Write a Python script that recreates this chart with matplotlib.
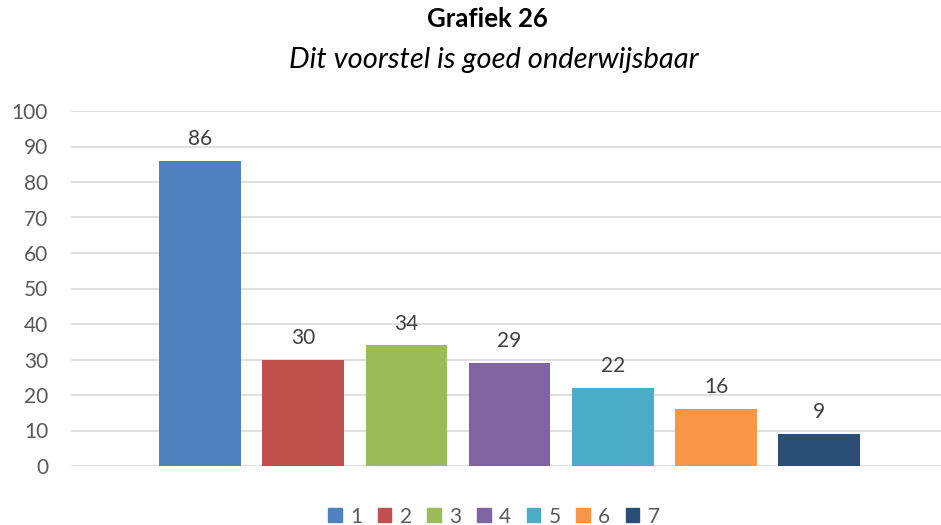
import matplotlib.pyplot as plt
import numpy as np

categories = ["1", "2", "3", "4", "5", "6", "7"]
values = [86, 30, 34, 29, 22, 16, 9]
colors = ["#4F81BD", "#C0504D", "#9BBB59", "#8064A2", "#4BACC6", "#F79646", "#2C4D75"]

plt.rcParams["font.family"] = ["Lato", "DejaVu Sans"]

fig = plt.figure(figsize=(9.41, 5.25), dpi=100)
# axes placed in pixel terms: x 71..941, y 111..466
ax = fig.add_axes([71 / 941, (525 - 466) / 525, 870 / 941, 355 / 525])

x = np.arange(len(values))
bars = ax.bar(x, values, width=0.79, color=colors, zorder=2, label=categories)

for xi, v in zip(x, values):
    ax.text(xi, v + 3.3, str(v), ha="center", va="bottom", fontsize=15, color="#404040")

ax.set_ylim(0, 100)
ax.set_xlim(-1.25, 7.18)
ax.set_yticks(range(0, 101, 10))
ax.set_xticks([])
ax.yaxis.grid(True, color="#D9D9D9", linewidth=1.2, zorder=0)
for s in ax.spines.values():
    s.set_visible(False)
ax.tick_params(axis="y", length=0, pad=16.5, labelsize=15, labelcolor="#595959")

fig.text(0.518, 0.964, "Grafiek 26", ha="center", va="center", fontsize=18.5, fontweight="bold")
fig.text(0.525, 0.885, "Dit voorstel is goed onderwijsbaar", ha="center", va="center",
         fontsize=21, style="italic")

handles = [plt.Rectangle((0, 0), 1, 1, color=c) for c in colors]
fig.legend(handles, categories, loc="center", bbox_to_anchor=(0.525, 0.016), ncol=7,
           frameon=False, fontsize=15, handlelength=0.65, handleheight=0.65,
           handletextpad=0.4, columnspacing=0.75, labelcolor="#595959")

fig.savefig("out.png", dpi=100)
